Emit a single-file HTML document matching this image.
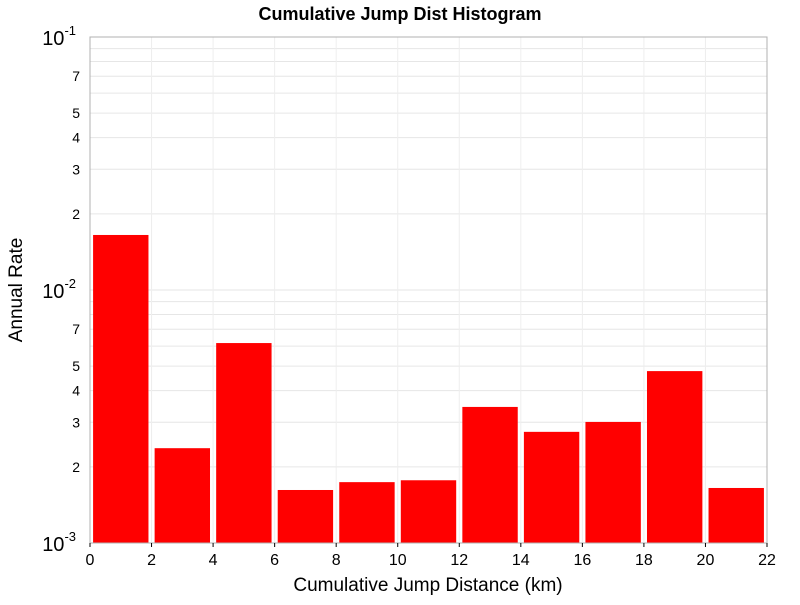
<!DOCTYPE html>
<html><head><meta charset="utf-8"><style>
body{margin:0;background:#fff;font-family:"Liberation Sans","DejaVu Sans",sans-serif;}
</style></head><body>
<svg id="chart" width="800" height="600" xmlns="http://www.w3.org/2000/svg"></svg>
<script>
const categories = [1,3,5,7,9,11,13,15,17,19,21];
const values = [0.0165,0.00237,0.00617,0.00162,0.00174,0.00177,0.00345,0.00275,0.00301,0.00478,0.00165];
const xTicks = [0,2,4,6,8,10,12,14,16,18,20,22];
const yMinorLabels = [2,3,4,5,7];
const decades = [-3,-2,-1];

const svg = document.getElementById('chart');
const NS = 'http://www.w3.org/2000/svg';
const L=90,R=767,T=37,B=543;
const xs = v => L + (v-0)/(22-0)*(R-L);
const ys = v => B - (Math.log10(v)+3)/2*(B-T);
function mk(tag, attrs, text){const e=document.createElementNS(NS,tag);for(const k in attrs)e.setAttribute(k,attrs[k]);if(text!==undefined)e.textContent=text;svg.appendChild(e);return e;}

// grid
for(const d of [-3,-2]){
  for(let m=1;m<10;m++){
    const y=ys(m*Math.pow(10,d));
    const g=mk('line',{x1:L,x2:R,y1:y,y2:y,stroke:'#e6e6e6','stroke-width':1});
    
    
  }
}
for(const t of xTicks){
  const g=mk('line',{x1:xs(t),x2:xs(t),y1:T,y2:B,stroke:'#eeeeee','stroke-width':1});
  
  
}
// bars
categories.forEach((c,i)=>{
  const x0=xs(c-0.9), x1=xs(c+0.9), y=ys(values[i]);
  const b=mk('rect',{x:x0,y:y,width:x1-x0,height:B-y,fill:'#ff0000'});
  
  
});
// frame
const f=mk('rect',{x:L,y:T,width:R-L,height:B-T,fill:'none',stroke:'#b0b0b0','stroke-width':1});


// x ticks
for(const t of xTicks){
  const tk=mk('line',{x1:xs(t),x2:xs(t),y1:B,y2:B+4,stroke:'#000'});
  
  
  const tl=mk('text',{x:xs(t),y:B+22,'text-anchor':'middle','font-size':16,fill:'#000'},String(t));
  
  
}
// y labels
for(const d of decades){
  const y=ys(Math.pow(10,d));
  const t=mk('text',{x:76,y:y+8,'text-anchor':'end','font-size':20,fill:'#000'});
  
  
  const a=document.createElementNS(NS,'tspan');a.textContent='10';t.appendChild(a);
  const s=document.createElementNS(NS,'tspan');s.setAttribute('dy','-10');s.setAttribute('font-size','13');s.textContent=String(d);t.appendChild(s);
}
for(const d of [-3,-2]){
  for(const m of yMinorLabels){
    const y=ys(m*Math.pow(10,d));
    const t=mk('text',{x:80,y:y+5,'text-anchor':'end','font-size':14,fill:'#000'},String(m));
    
    
  }
}
const title=mk('text',{x:400,y:20,'text-anchor':'middle','font-size':18,'font-weight':'bold',fill:'#000'},'Cumulative Jump Dist Histogram');


const xt=mk('text',{x:428,y:591,'text-anchor':'middle','font-size':19,fill:'#000'},'Cumulative Jump Distance (km)');


const yt=mk('text',{x:22,y:290,'text-anchor':'middle','font-size':19,fill:'#000',transform:'rotate(-90 22 290)'},'Annual Rate');


</script>
</body></html>
